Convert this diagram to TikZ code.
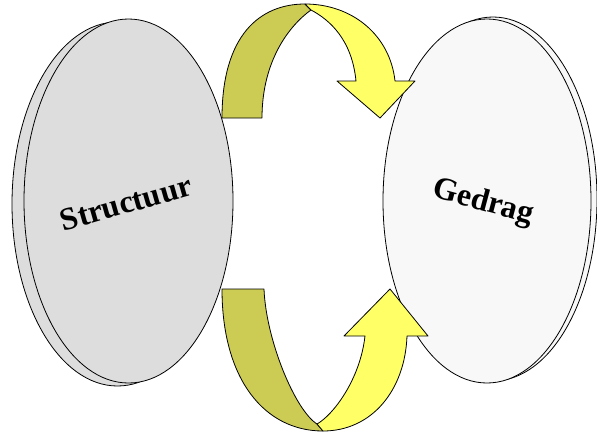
\documentclass[tikz,border=0pt]{standalone}
\usepackage{fontspec}
\setmainfont{Liberation Serif}
\definecolor{olivebar}{HTML}{CCCC55}
\definecolor{yellowbar}{HTML}{FFFF66}
\definecolor{diskdark}{HTML}{DDDDDD}
\definecolor{disklight}{HTML}{F8F8F8}
\tikzset{
  outline/.style={draw=black, line width=0.8pt, line join=round},
  label/.style={font=\bfseries\fontsize{32}{36}\selectfont, inner sep=0pt}
}
\begin{document}
\begin{tikzpicture}[x=1pt, y=-1pt]
\useasboundingbox (0,0) rectangle (597,432);

% left disk: rim behind, face in front
\path[outline, fill=diskdark] (117.5,204) ellipse [x radius=105.5, y radius=182];
\path[outline, fill=diskdark] (128.5,201) ellipse [x radius=104.5, y radius=182];

% right disk: rim behind, face in front
\path[outline, fill=disklight] (493,199) ellipse [x radius=104, y radius=182];
\path[outline, fill=disklight] (487,201) ellipse [x radius=104, y radius=182];

% upper ribbon arrow: shaded back half, then bright front half with head
\path[outline, fill=olivebar]
  (222,118) .. controls (222,35) and (260,4) .. (305,4)
  -- (311,10) .. controls (290,25) and (262,60) .. (262,118) -- cycle;
\path[outline, fill=yellowbar]
  (305,4) .. controls (352,4) and (390,35) .. (395,81)
  -- (415,81) -- (380,118) -- (337,81) -- (356,81)
  .. controls (352,40) and (330,20) .. (311,10) -- cycle;

% lower ribbon arrow: shaded back half, then bright front half with head
\path[outline, fill=olivebar]
  (222,289) -- (264,289) .. controls (266,340) and (295,410) .. (317,424)
  -- (323,431) .. controls (265,431) and (222,380) .. (222,289) -- cycle;
\path[outline, fill=yellowbar]
  (323,431) .. controls (372,431) and (405,390) .. (407,336)
  -- (428,336) -- (390,289) -- (344,336) -- (365,336)
  .. controls (360,380) and (333,415) .. (317,424) -- cycle;

% labels on the disk faces
\node[label, rotate=16] (structuur) at (126,203) {Structuur};
\node[label, rotate=-15] (gedrag) at (483,203) {Gedrag};
\end{tikzpicture}
\end{document}
